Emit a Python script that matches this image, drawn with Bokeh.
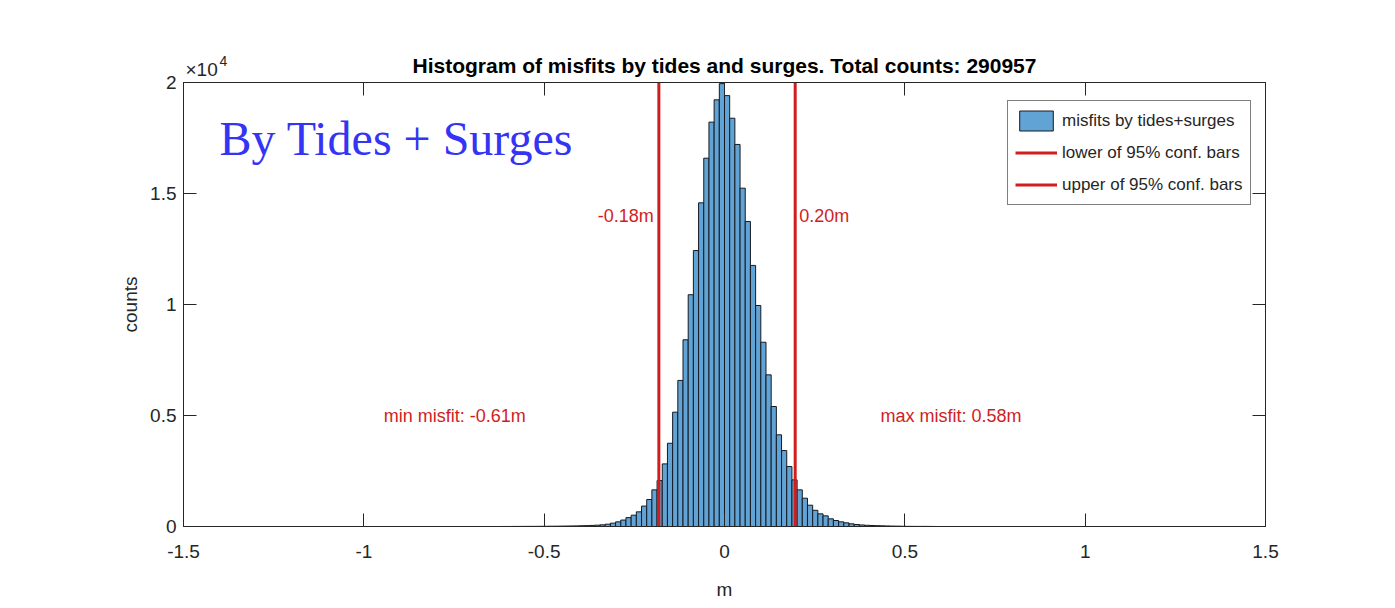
import numpy as np
from bokeh.plotting import figure
from bokeh.models import Range1d, LinearAxis, FixedTicker, Label, Legend, LegendItem
from bokeh.embed import file_html
from bokeh.resources import INLINE

# ---------------- data ----------------
bin_width = 0.01438
first_bin_index = -43          # left edge of first bin = first_bin_index * bin_width
counts = [1, 2, 3, 4, 5, 6, 7, 8, 10, 12, 14, 17, 20, 24, 28, 34, 40, 48, 60, 75,
          105, 150, 210, 290, 400, 510, 660, 920, 1215, 1650, 2070, 2820, 3750, 5150,
          6580, 8410, 10440, 12430, 14580, 16590, 18215, 19220, 19950,
          19410, 18390, 17210, 15240, 13740, 11760, 9955, 8300, 6830, 5405, 4130, 3420,
          2700, 2100, 1650, 1275, 960, 730, 570, 480, 345, 270, 210, 165, 120, 90, 70,
          55, 45, 36, 30, 24, 19, 15, 10, 7, 5, 4, 5, 4, 2]
ci_lower = -0.182
ci_upper = 0.196
ci_lower_label = "-0.18m"
ci_upper_label = "0.20m"
min_misfit_label = "min misfit: -0.61m"
max_misfit_label = "max misfit: 0.58m"
total_counts = 290957
title_text = f"Histogram of misfits by tides and surges. Total counts: {total_counts}"
x_ticks = [-1.5, -1, -0.5, 0, 0.5, 1, 1.5]
x_tick_labels = ["-1.5", "-1", "-0.5", "0", "0.5", "1", "1.5"]
y_ticks = [0, 5000, 10000, 15000, 20000]
y_tick_labels = ["0", "0.5", "1", "1.5", "2"]
y_max = 20000

idx = np.arange(len(counts)) + first_bin_index
lefts = idx * bin_width
rights = lefts + bin_width

SANS = "Liberation Sans"
AXC = "#262626"
RED = "#d01e1e"

p = figure(width=1395, height=608, output_backend="svg", toolbar_location=None,
           x_range=Range1d(-1.5, 1.5), y_range=Range1d(0, y_max),
           min_border_left=183, min_border_right=130, min_border_top=82, min_border_bottom=82)
p.background_fill_color = "white"
p.border_fill_color = "white"
p.outline_line_color = AXC
p.outline_line_width = 1
p.xgrid.visible = False
p.ygrid.visible = False

bars = p.quad(left=lefts, right=rights, bottom=0, top=counts,
              fill_color="#61a3d4", line_color="#151a22", line_width=1)
low = p.line(x=[ci_lower, ci_lower], y=[0, y_max], line_color=RED, line_width=3)
up = p.line(x=[ci_upper, ci_upper], y=[0, y_max], line_color=RED, line_width=3)

def style_axis(ax):
    ax.axis_line_color = AXC
    ax.major_tick_line_color = AXC
    ax.major_tick_in = 13
    ax.major_tick_out = 0
    ax.minor_tick_line_color = None
    ax.major_label_text_font = SANS
    ax.major_label_text_font_size = "19px"
    ax.major_label_text_color = AXC

xa = p.xaxis[0]
xa.ticker = FixedTicker(ticks=x_ticks)
xa.major_label_overrides = dict(zip(x_ticks, x_tick_labels))
style_axis(xa)
xa.major_label_standoff = 18
xa.axis_label = "m"
xa.axis_label_text_font = SANS
xa.axis_label_text_font_size = "19px"
xa.axis_label_text_font_style = "normal"
xa.axis_label_text_color = AXC
xa.axis_label_standoff = 18

ya = p.yaxis[0]
ya.ticker = FixedTicker(ticks=y_ticks)
ya.major_label_overrides = dict(zip(y_ticks, y_tick_labels))
style_axis(ya)
ya.major_label_standoff = 7
ya.axis_label = "counts"
ya.axis_label_text_font = SANS
ya.axis_label_text_font_size = "19px"
ya.axis_label_text_font_style = "normal"
ya.axis_label_text_color = AXC
ya.axis_label_standoff = 6

# top box axis: tick marks at x_ticks (as minor ticks); its single label is the title
title_pos = 0.0
top_ax = LinearAxis(ticker=FixedTicker(ticks=[title_pos], minor_ticks=x_ticks))
top_ax.axis_line_color = AXC
top_ax.major_tick_line_color = None
top_ax.major_tick_in = 0
top_ax.major_tick_out = 0
top_ax.minor_tick_line_color = AXC
top_ax.minor_tick_in = 13
top_ax.minor_tick_out = 0
top_ax.major_label_overrides = {title_pos: title_text}
top_ax.major_label_text_font = SANS
top_ax.major_label_text_font_size = "21px"
top_ax.major_label_text_font_style = "bold"
top_ax.major_label_text_color = "black"
top_ax.major_label_standoff = 6
p.add_layout(top_ax, "above")

right_ax = LinearAxis(ticker=FixedTicker(ticks=[], minor_ticks=y_ticks))
right_ax.axis_line_color = AXC
right_ax.major_tick_line_color = None
right_ax.minor_tick_line_color = AXC
right_ax.minor_tick_in = 13
right_ax.minor_tick_out = 0
right_ax.major_label_standoff = 0
p.add_layout(right_ax, "right")

# exponent marker x10^4 (side panel, so it is not clipped by the frame)
p.add_layout(Label(x=-1.5, y=y_max, x_offset=2, y_offset=13, text="\u00d710",
                   text_align="left", text_baseline="middle", text_font=SANS,
                   text_font_size="19px", text_color=AXC), "above")
p.add_layout(Label(x=-1.5, y=y_max, x_offset=36, y_offset=22, text="4",
                   text_align="left", text_baseline="middle", text_font=SANS,
                   text_font_size="14px", text_color=AXC), "above")

# overlay text
p.add_layout(Label(x=-1.5, y=y_max, x_offset=36, y_offset=-56, text="By Tides + Surges",
                   text_align="left", text_baseline="alphabetic", text_font="Liberation Serif",
                   text_font_size="48px", text_color="#3434f4"))

# red annotations
p.add_layout(Label(x=ci_lower, y=14000, x_offset=-5, text=ci_lower_label, text_align="right",
                   text_baseline="middle", text_font=SANS, text_font_size="18px", text_color=RED))
p.add_layout(Label(x=ci_upper, y=14000, x_offset=4, text=ci_upper_label, text_align="left",
                   text_baseline="middle", text_font=SANS, text_font_size="18px", text_color=RED))
p.add_layout(Label(x=-0.945, y=5000, text=min_misfit_label, text_align="left",
                   text_baseline="middle", text_font=SANS, text_font_size="18px", text_color=RED))
p.add_layout(Label(x=0.4325, y=5000, text=max_misfit_label, text_align="left",
                   text_baseline="middle", text_font=SANS, text_font_size="18px", text_color=RED))

legend = Legend(items=[LegendItem(label="misfits by tides+surges", renderers=[bars]),
                       LegendItem(label="lower of 95% conf. bars", renderers=[low]),
                       LegendItem(label="upper of 95% conf. bars", renderers=[up])],
                location=(824, 321))
legend.border_line_color = "black"
legend.border_line_width = 1
legend.background_fill_color = "white"
legend.background_fill_alpha = 1
legend.label_text_font = SANS
legend.label_text_font_size = "17px"
legend.label_text_color = AXC
legend.glyph_width = 42
legend.glyph_height = 25
legend.label_height = 25
legend.label_standoff = 5
legend.spacing = 7
legend.padding = 7
legend.margin = 0
p.add_layout(legend)

open("out.html", "w").write(file_html(p, INLINE))
